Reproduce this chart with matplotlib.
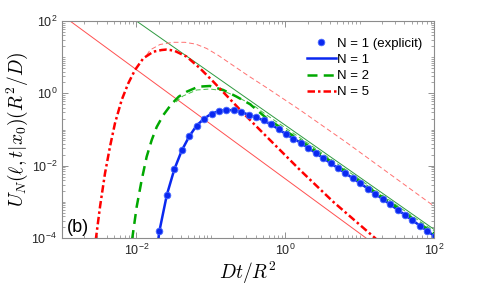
import matplotlib
matplotlib.use("Agg")
import matplotlib.pyplot as plt
import matplotlib.ticker as ticker
import numpy as np

# values, stored as log10 exponents (log-log chart)
# N = 1, explicit solution (dots)
n1_dot_logt = [-1.69, -1.59, -1.49, -1.39, -1.29, -1.19, -1.09, -0.99, -0.89, -0.79,
               -0.69, -0.59, -0.49, -0.39, -0.29, -0.19, -0.09, 0.01, 0.11, 0.21,
               0.31, 0.41, 0.51, 0.61, 0.71, 0.81, 0.91, 1.01, 1.11, 1.21,
               1.31, 1.41, 1.51, 1.61, 1.71, 1.81, 1.91, 2.01]
n1_dot_logu = [-3.80, -2.80, -2.10, -1.58, -1.19, -0.89, -0.70, -0.56, -0.49, -0.46,
               -0.47, -0.52, -0.59, -0.665, -0.75, -0.86, -0.99, -1.13, -1.25, -1.37,
               -1.51, -1.65, -1.79, -1.93, -2.07, -2.21, -2.35, -2.49, -2.635, -2.78,
               -2.925, -3.07, -3.217, -3.364, -3.511, -3.658, -3.805, -3.952]

# N = 1 line (same curve, starts below the axes)
n1_start_logt = [-1.73]
n1_start_logu = [-4.4]

# N = 2
n2_logt = [-2.09, -2.055, -1.996, -1.929, -1.862, -1.794, -1.727, -1.638, -1.53, -1.43,
           -1.324, -1.168, -1.011, -0.832, -0.652, -0.473, -0.249, 0.0, 0.2, 0.65,
           1.1, 1.55, 2.0]
n2_logu = [-4.5, -4.0, -3.135, -2.396, -1.752, -1.29, -0.93, -0.60, -0.30, -0.09,
           0.045, 0.184, 0.203, 0.092, -0.093, -0.30, -0.69, -1.03, -1.30, -1.93,
           -2.575, -3.22, -3.88]

# N = 5
n5_logt = [-2.57, -2.543, -2.489, -2.422, -2.355, -2.288, -2.198, -2.109, -2.019, -1.907,
           -1.773, -1.66, -1.60, -1.548, -1.481, -1.324, -1.145, -0.966, -0.876, -0.517,
           -0.249, 0.02, 0.199, 0.646, 1.207, 1.4]
n5_logu = [-4.5, -4.0, -3.135, -2.211, -1.475, -0.828, -0.184, 0.278, 0.645, 0.969,
           1.151, 1.198, 1.21, 1.198, 1.17, 1.013, 0.692, 0.322, 0.127, -0.646,
           -1.199, -1.752, -2.12, -3.0, -4.0, -4.4]

# thin dashed approximations
n2_approx_logt = [-1.47, -1.374, -1.19, -1.011, -0.836, -0.652, -0.429, -0.249, 0.0,
                  0.199, 0.646, 1.095, 1.543, 2.0]
n2_approx_logu = [-0.24, -0.074, 0.092, 0.12, 0.073, -0.093, -0.33, -0.60, -0.95,
                  -1.23, -1.87, -2.515, -3.16, -3.81]
n5_approx_logt = [-1.86, -1.817, -1.683, -1.508, -1.347, -1.2, -1.055, -0.9, -0.75,
                  -0.5, -0.245, 0.199, 0.831, 1.987]
n5_approx_logu = [1.06, 1.198, 1.35, 1.411, 1.411, 1.36, 1.24, 1.05, 0.84,
                  0.49, 0.15, -0.46, -1.37, -3.10]

# thin straight asymptotes
green_asym_logt = [-2.0, 2.0]
green_asym_logu = [2.0, -3.76]
red_asym_logt = [-2.892, 1.086]
red_asym_logu = [2.0, -4.0]

x_major = [1e-2, 1e0, 1e2]
y_major = [1e-4, 1e-2, 1e0, 1e2]


def to_lin(vals):
    return 10.0 ** np.asarray(vals)


def tick_fmt(v, pos):
    e = int(round(np.log10(v)))
    return r"$\mathregular{10^{%d}}$" % e


plt.rcParams['font.family'] = ['Liberation Sans', 'DejaVu Sans']
plt.rcParams['mathtext.fontset'] = 'cm'

fig = plt.figure(figsize=(4.8, 2.88), dpi=100)
ax = fig.add_axes([62 / 480, 50 / 288, 372 / 480, 217 / 288])

blue = '#0a28f0'
green = '#00a800'
red = '#ff0000'

# thin reference curves
ax.plot(to_lin(red_asym_logt), to_lin(red_asym_logu), color='#ff5050', lw=0.7)
ax.plot(to_lin(green_asym_logt), to_lin(green_asym_logu), color='#2e9a40', lw=0.7)
ax.plot(to_lin(n5_approx_logt), to_lin(n5_approx_logu), color='#ff7070', lw=0.7,
        dashes=(5, 3))
ax.plot(to_lin(n2_approx_logt), to_lin(n2_approx_logu), color='#44c044', lw=0.7,
        dashes=(5, 3))

# main curves
ax.plot(to_lin(n1_start_logt + n1_dot_logt), to_lin(n1_start_logu + n1_dot_logu),
        color=blue, lw=1.8, label='N = 1')
ax.plot(to_lin(n2_logt), to_lin(n2_logu), color=green, lw=1.8, dashes=(4, 2.5),
        label='N = 2')
ax.plot(to_lin(n5_logt), to_lin(n5_logu), color=red, lw=1.8, dashes=(3, 1.2, 1, 1.2),
        label='N = 5')
dots, = ax.plot(to_lin(n1_dot_logt), to_lin(n1_dot_logu), 'o', color=blue, ms=4.8,
                mec='#4a6aff', mew=0.6, ls='none', label='N = 1 (explicit)')

ax.set_xscale('log')
ax.set_yscale('log')
ax.set_xlim(1e-3, 1e2)
ax.set_ylim(1e-4, 1e2)

# MATLAB-like ticks: labels every second decade, minor ticks everywhere
ax.xaxis.set_major_locator(ticker.FixedLocator(x_major))
ax.yaxis.set_major_locator(ticker.FixedLocator(y_major))
ax.xaxis.set_minor_locator(ticker.LogLocator(base=10, subs=np.arange(1, 10), numticks=50))
ax.yaxis.set_minor_locator(ticker.LogLocator(base=10, subs=np.arange(1, 10), numticks=50))
ax.xaxis.set_minor_formatter(ticker.NullFormatter())
ax.yaxis.set_minor_formatter(ticker.NullFormatter())
ax.xaxis.set_major_formatter(ticker.FuncFormatter(tick_fmt))
ax.yaxis.set_major_formatter(ticker.FuncFormatter(tick_fmt))
ax.tick_params(which='both', direction='in', top=True, right=True, color='0.5',
               labelcolor='0.15', labelsize=9)
ax.tick_params(which='major', length=4, width=0.6)
ax.tick_params(which='minor', length=2, width=0.5)
for spine in ax.spines.values():
    spine.set_color('0.55')
    spine.set_linewidth(0.8)

ax.set_xlabel(r'$Dt/R^2$', fontsize=14, labelpad=1)
ax.set_ylabel(r'$U_N(\ell,t|x_0)(R^2/D)$', fontsize=14, labelpad=1)

ax.text(0.012, 0.05, '(b)', transform=ax.transAxes, fontsize=13, va='center', ha='left')

handles, labels = ax.get_legend_handles_labels()
order = [3, 0, 1, 2]
ax.legend([handles[i] for i in order], [labels[i] for i in order],
          loc='upper right', bbox_to_anchor=(0.99, 0.96), frameon=False, fontsize=9.5,
          numpoints=1, handlelength=2.2, handletextpad=0.1, labelspacing=0.3,
          borderaxespad=0.2)

fig.savefig('out.png', dpi=100)
